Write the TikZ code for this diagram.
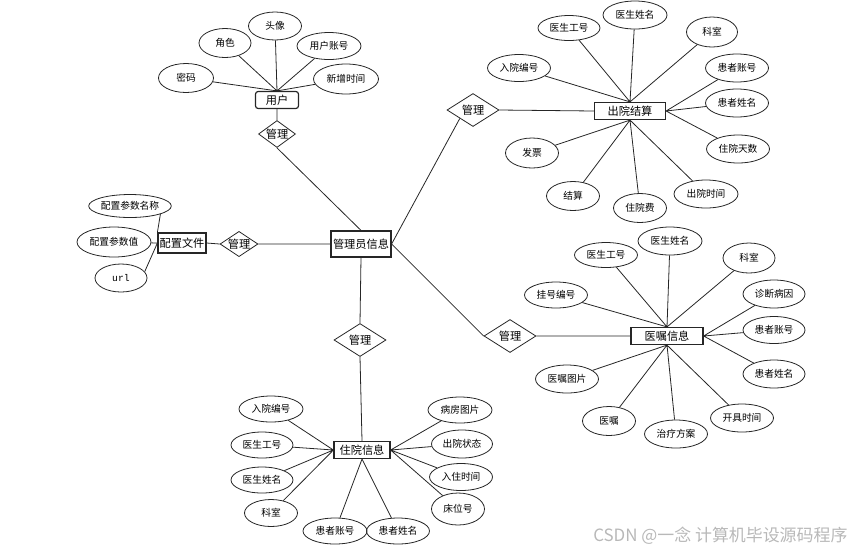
\documentclass[tikz,border=0pt]{standalone}
\usepackage{fontspec}
\setmainfont{Noto Sans CJK SC}
\newfontfamily\urlfont{Liberation Mono}
\usetikzlibrary{shapes.geometric}
\tikzset{
  attr/.style={ellipse,draw=black!85,line width=0.6pt,inner sep=0pt,
    minimum width=47.25pt,minimum height=21pt,font=\fontsize{7.3}{8}\selectfont},
  sm/.style={attr,minimum width=39.75pt,minimum height=21.75pt},
  ent/.style={rectangle,draw=black!85,line width=0.9pt,inner sep=0pt,
    minimum height=12.75pt,font=\fontsize{8.4}{9}\selectfont},
  rel/.style={diamond,draw=black!85,line width=0.6pt,inner sep=0pt,aspect=1.56,
    minimum width=39pt,minimum height=24.75pt,font=\fontsize{8.4}{9}\selectfont},
  lk/.style={black!85,line width=0.6pt}
}
\begin{document}
\begin{tikzpicture}[x=0.75pt,y=-0.75pt]
\useasboundingbox (0,0) rectangle (852,551);
\node[ent,minimum width=45pt,minimum height=19.5pt] (gly) at (361,244) {管理员信息};
\node[ent,rounded corners=2pt,minimum width=32.25pt] (yh) at (277,100) {用户};
\node[ent,minimum width=36pt,minimum height=15pt] (pz) at (182,243) {配置文件};
\node[ent,minimum width=53.25pt] (cyjs) at (630,111) {出院结算};
\node[ent,minimum width=54pt] (yz) at (667,336) {医嘱信息};
\node[ent,minimum width=42pt] (zy) at (362,450) {住院信息};
\node[rel,aspect=1.4,minimum width=27.75pt,minimum height=20.25pt] (gl1) at (277,134) {管理};
\node[rel,aspect=1.5,minimum width=27pt,minimum height=18pt] (gl0) at (239,244) {管理};
\node[rel] (gl2) at (473,110) {管理};
\node[rel] (gl3) at (510,336) {管理};
\node[rel] (gl4) at (360,340) {管理};
\node[sm,minimum width=41.25pt] (mm) at (186,78) {密码};
\node[sm,minimum width=39pt] (js) at (225,43) {角色};
\node[sm,minimum width=39.75pt,minimum height=21pt] (tx) at (275,26) {头像};
\node[attr,minimum width=48pt,minimum height=20.25pt] (yhzh) at (329,46) {用户账号};
\node[attr,minimum width=48.75pt,minimum height=22.5pt] (xzsj) at (346,79) {新增时间};
\node[attr,minimum width=60.75pt,minimum height=17.25pt] (cfmc) at (130,206) {配置参数名称};
\node[attr,minimum width=55.5pt,minimum height=22.5pt] (cfz) at (114,242) {配置参数值};
\node[sm,minimum width=39pt,minimum height=21pt] (url) at (121,278) {\urlfont url};
\node[attr,minimum width=46.5pt,minimum height=18.75pt] (c1) at (569,28) {医生工号};
\node[attr,minimum width=48pt] (c2) at (635,15) {医生姓名};
\node[sm,minimum width=38.25pt,minimum height=22.5pt] (c3) at (712,32) {科室};
\node[attr,minimum height=20.25pt] (c4) at (519,68) {入院编号};
\node[attr] (c5) at (737,68) {患者账号};
\node[attr] (c6) at (737,103) {患者姓名};
\node[attr] (c7) at (738,149) {住院天数};
\node[attr,minimum width=48pt] (c8) at (706,194) {出院时间};
\node[sm] (c9) at (640,208) {住院费};
\node[sm] (c10) at (573,196) {结算};
\node[sm,minimum height=22.5pt] (c11) at (532,153) {发票};
\node[attr,minimum height=19.5pt] (y1) at (556,295) {挂号编号};
\node[attr,minimum height=18.75pt] (y2) at (606,255) {医生工号};
\node[attr,minimum width=48pt] (y3) at (670,241) {医生姓名};
\node[sm,minimum width=39pt,minimum height=22.5pt] (y4) at (749,258) {科室};
\node[attr,minimum width=46.5pt] (y5) at (774,294) {诊断病因};
\node[attr,minimum width=46.5pt,minimum height=20.25pt] (y6) at (774,330) {患者账号};
\node[attr,minimum width=46.5pt] (y7) at (774,374) {患者姓名};
\node[attr] (y8) at (742,418) {开具时间};
\node[attr] (y9) at (676,434) {治疗方案};
\node[sm] (y10) at (609,421) {医嘱};
\node[attr] (y11) at (567,379) {医嘱图片};
\node[attr,minimum width=48pt,minimum height=19.5pt] (z1) at (271,409) {入院编号};
\node[attr,minimum width=46.5pt,minimum height=19.5pt] (z2) at (262,445) {医生工号};
\node[attr,minimum width=46.5pt,minimum height=19.5pt] (z3) at (262,480) {医生姓名};
\node[sm,minimum width=39.75pt,minimum height=20.25pt] (z4) at (271,513) {科室};
\node[attr,minimum width=48pt,minimum height=19.5pt] (z5) at (335,531) {患者账号};
\node[attr,minimum width=47.25pt,minimum height=19.5pt] (z6) at (398,531) {患者姓名};
\node[sm,minimum width=39.75pt,minimum height=24pt] (z7) at (458,509) {床位号};
\node[attr,minimum height=20.25pt] (z8) at (461,477) {入住时间};
\node[attr,minimum width=45.75pt] (z9) at (462,444) {出院状态};
\node[attr,minimum width=48pt,minimum height=19.5pt] (z10) at (460,410) {病房图片};
\node[anchor=west,text=black!28,font=\fontsize{12.7}{13}\selectfont,inner sep=0pt] (wm) at (593,536) {CSDN @一念 计算机毕设源码程序};
\draw[lk] (mm) -- (yh.north) (js) -- (yh.north) (tx) -- (yh.north)
  (yhzh) -- (yh.north) (xzsj) -- (yh.north);
\draw[lk] (yh) -- (gl1) (gl1.south) -- (gly.north);
\draw[lk] (gly.west) -- (gl0.east) (gl0.west) -- (pz.east);
\draw[lk] (cfmc.-15) -- (pz.north west) (cfz) -- (pz.west) (url.15) -- (pz.west);
\draw[lk] (gly.east) -- (gl2.south west) (gl2.east) -- (cyjs.west);
\draw[lk] (c1) -- (cyjs.north) (c2) -- (cyjs.north) (c3) -- (cyjs.north) (c4) -- (cyjs.north);
\draw[lk] (c5) -- (cyjs.east) (c6) -- (cyjs.east) (c7) -- (cyjs.east);
\draw[lk] (c8) -- (cyjs.south) (c9) -- (cyjs.south) (c10) -- (cyjs.south) (c11) -- (cyjs.south);
\draw[lk] (gly.east) -- (gl3.west) (gl3.east) -- (yz.west);
\draw[lk] (y1) -- (yz.north) (y2) -- (yz.north) (y3) -- (yz.north) (y4) -- (yz.north);
\draw[lk] (y5) -- (yz.east) (y6) -- (yz.east) (y7) -- (yz.east);
\draw[lk] (y8) -- (yz.south) (y9) -- (yz.south) (y10) -- (yz.south) (y11) -- (yz.south);
\draw[lk] (gly.south) -- (gl4.north) (gl4.south) -- (zy.north);
\draw[lk] (z1) -- (zy.west) (z2) -- (zy.west) (z3) -- (zy.west) (z4) -- (zy.west);
\draw[lk] (z5) -- (zy.south) (z6) -- (zy.south);
\draw[lk] (z7) -- (zy.east) (z8) -- (zy.east) (z9) -- (zy.east) (z10) -- (zy.east);
\end{tikzpicture}
\end{document}
